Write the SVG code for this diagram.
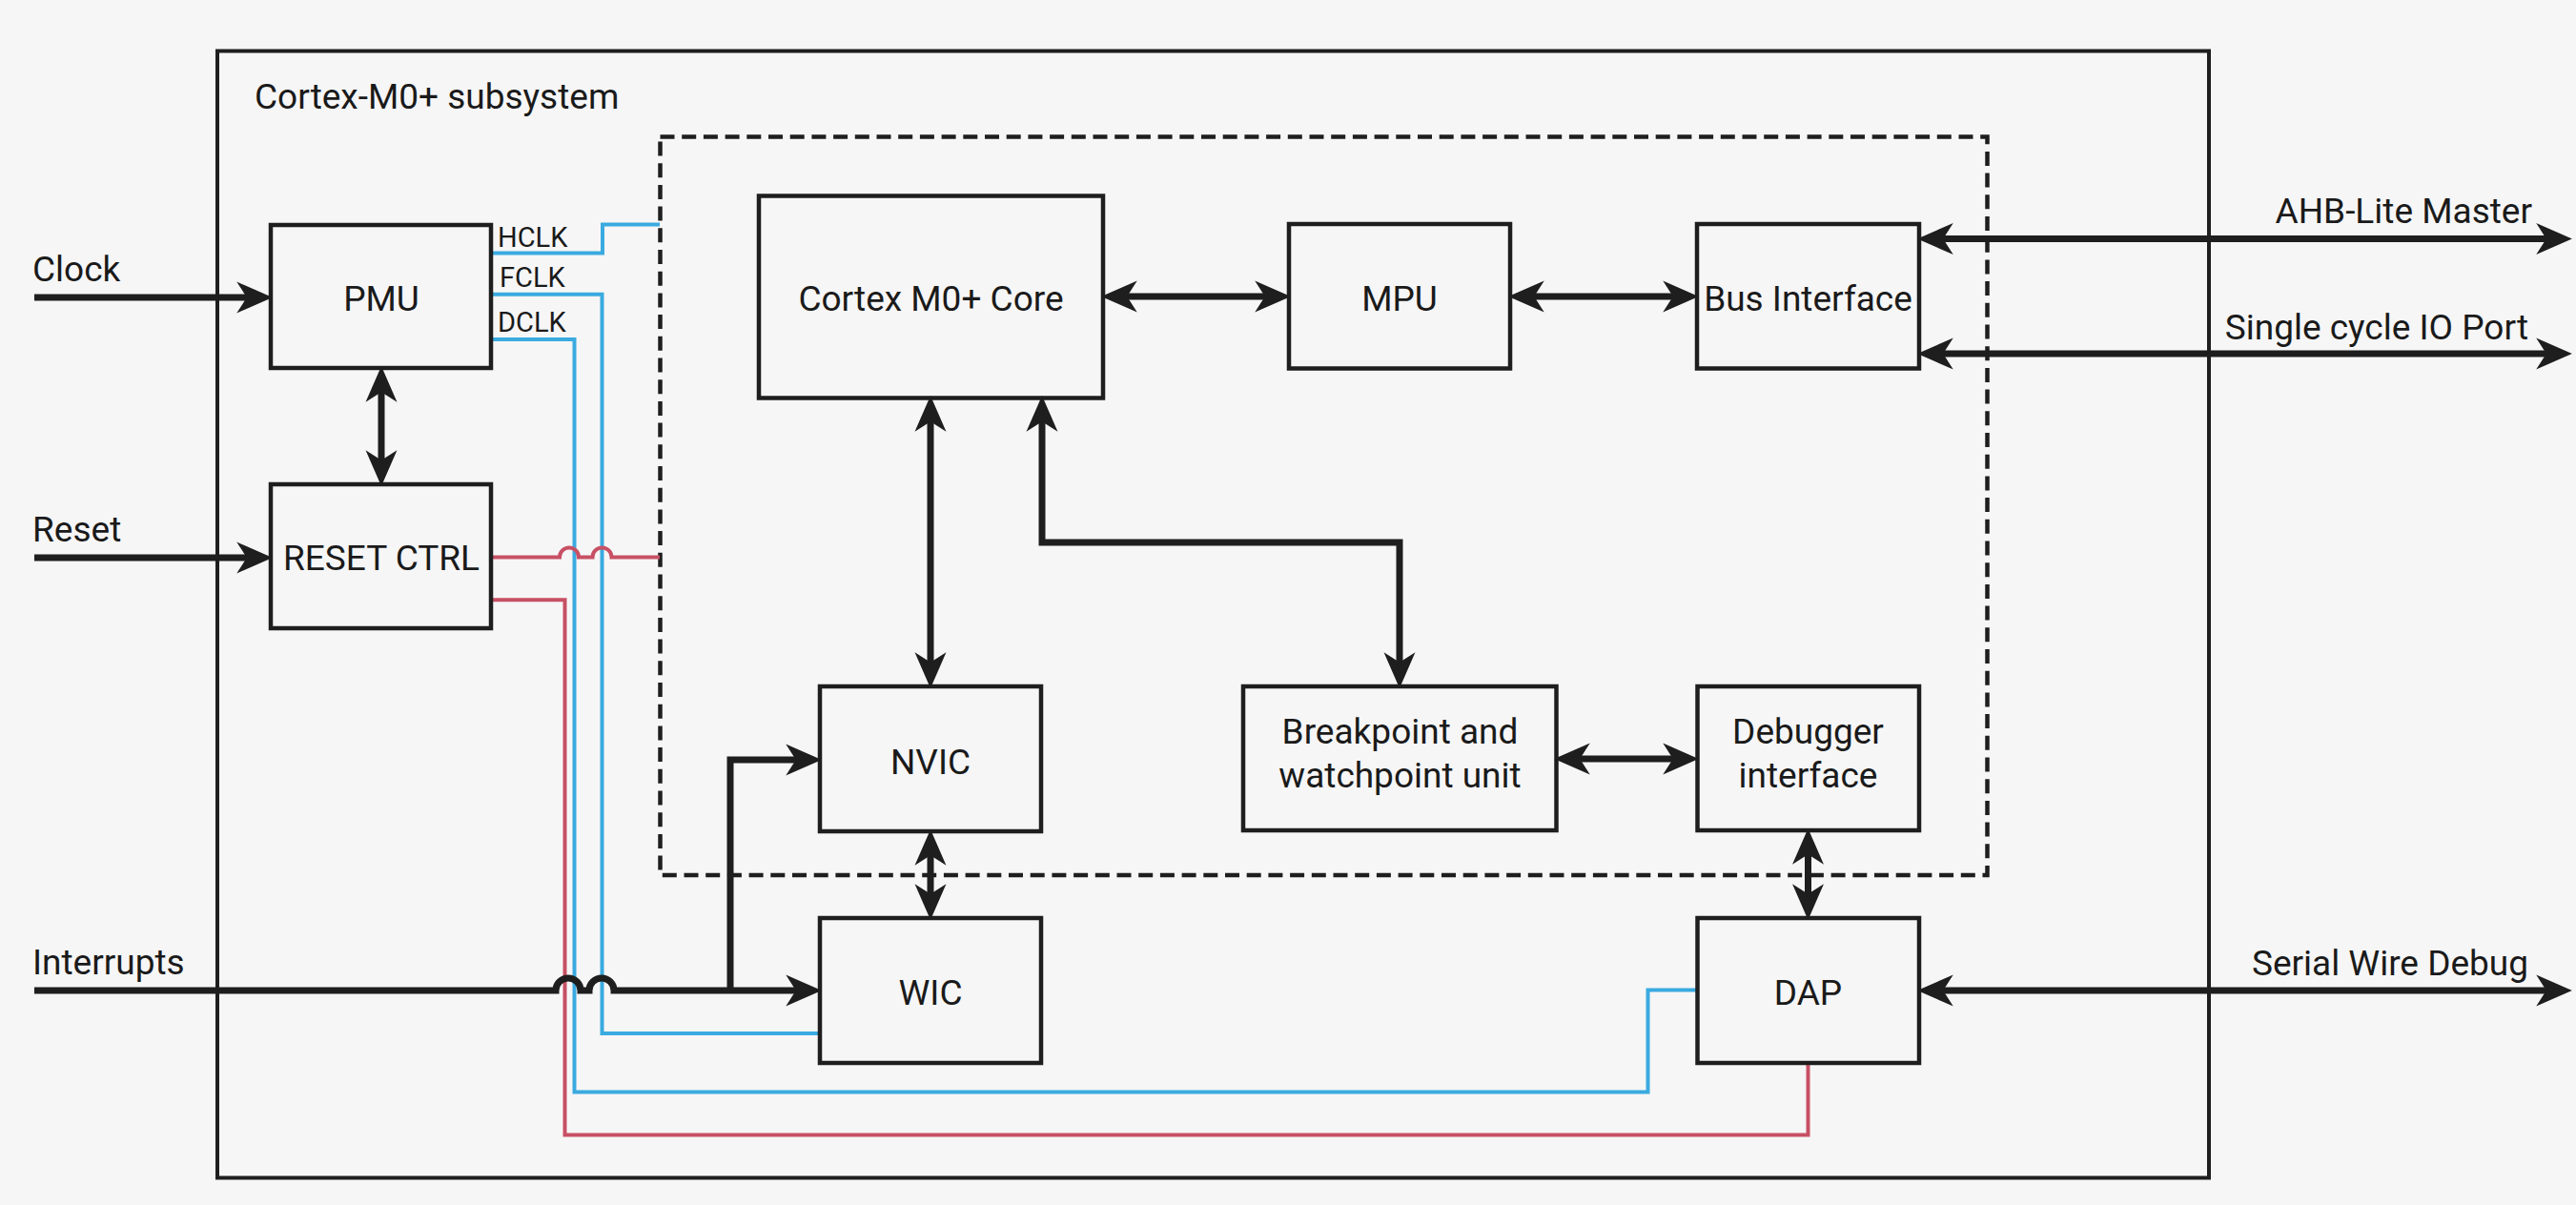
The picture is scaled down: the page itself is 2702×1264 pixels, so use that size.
<svg xmlns="http://www.w3.org/2000/svg" width="2702" height="1264" viewBox="0 0 2702 1264">
<style>
.bg{fill:#f6f6f6}
.box{fill:none;stroke:#1e1e1e;stroke-width:4.5}
.frame{fill:none;stroke:#1e1e1e;stroke-width:4}
.dash{fill:none;stroke:#1e1e1e;stroke-width:4.5;stroke-dasharray:15 7.7}
.t{font-family:Roboto,"Liberation Sans",sans-serif;font-size:37px;fill:#1a1a1a}
.c{text-anchor:middle}
.e{text-anchor:end}
.s{font-size:29px}
.bus{fill:none;stroke:#1e1e1e;stroke-width:7}
.blue{fill:none;stroke:#3aaae0;stroke-width:4}
.red{fill:none;stroke:#c85064;stroke-width:4}
</style>
<defs>
<marker id="ah" markerUnits="userSpaceOnUse" markerWidth="40" markerHeight="40" viewBox="0 -16 34 32" refX="10" refY="0" orient="auto-start-reverse" overflow="visible">
<path d="M0,-14 L32,0 L0,14 L9,0 Z" fill="#1e1e1e"/>
</marker>
</defs>
<rect class="bg" x="0" y="0" width="2702" height="1264"/>
<g id="subsystem">
<rect class="frame" x="228" y="53.5" width="2089" height="1182"/>
<text class="t" x="267" y="114">Cortex-M0+ subsystem</text>
</g>
<g id="core-region">
<rect class="dash" x="692.5" y="143.5" width="1392" height="774.5"/>
</g>
<g id="connectors">
<path class="blue" d="M517 265.5 H632 V235.5 H692"/>
<path class="blue" d="M517 308.7 H631.5 V1084 H860"/>
<path class="blue" d="M517 356 H602.5 V1145.5 H1728.5 V1038.5 H1780"/>
<path class="red" d="M517 584.5 H587 A10 10 0 0 1 607 584.5 H621.5 A10 10 0 0 1 641.5 584.5 H692"/>
<path class="red" d="M517 629.3 H592.5 V1190.5 H1896.5 V1116"/>
<path class="bus" marker-end="url(#ah)" d="M36 312 H260"/>
<path class="bus" marker-end="url(#ah)" d="M36 585 H260"/>
<path class="bus" marker-start="url(#ah)" marker-end="url(#ah)" d="M400 410 V484"/>
<path class="bus" marker-end="url(#ah)" d="M36 1039 H583 A13 13 0 0 1 609 1039 H618 A13 13 0 0 1 644 1039 H836"/>
<path class="bus" marker-end="url(#ah)" d="M766 1039 V797 H836"/>
<path class="bus" marker-start="url(#ah)" marker-end="url(#ah)" d="M1181 311 H1328"/>
<path class="bus" marker-start="url(#ah)" marker-end="url(#ah)" d="M1608 311 H1756"/>
<path class="bus" marker-start="url(#ah)" marker-end="url(#ah)" d="M2037 250.5 H2672"/>
<path class="bus" marker-start="url(#ah)" marker-end="url(#ah)" d="M2037 371 H2672"/>
<path class="bus" marker-start="url(#ah)" marker-end="url(#ah)" d="M976 441 V696"/>
<path class="bus" marker-start="url(#ah)" marker-end="url(#ah)" d="M1093 441 V569 H1468 V696"/>
<path class="bus" marker-start="url(#ah)" marker-end="url(#ah)" d="M976 896 V939"/>
<path class="bus" marker-start="url(#ah)" marker-end="url(#ah)" d="M1656 796 H1756"/>
<path class="bus" marker-start="url(#ah)" marker-end="url(#ah)" d="M1896.5 895 V939"/>
<path class="bus" marker-start="url(#ah)" marker-end="url(#ah)" d="M2037 1039 H2672"/>
</g>
<g id="labels">
<text class="t" x="34" y="295">Clock</text>
<text class="t" x="34" y="568">Reset</text>
<text class="t" x="34" y="1022">Interrupts</text>
<text class="t e" x="2656" y="234">AHB-Lite Master</text>
<text class="t e" x="2652" y="356">Single cycle IO Port</text>
<text class="t e" x="2652" y="1022.5">Serial Wire Debug</text>
<text class="t s" x="522" y="259">HCLK</text>
<text class="t s" x="524" y="301">FCLK</text>
<text class="t s" x="522" y="348.3">DCLK</text>
</g>
<g id="pmu">
<rect class="box" x="284" y="236" width="231" height="150"/>
<text class="t c" x="400" y="326">PMU</text>
</g>
<g id="reset-ctrl">
<rect class="box" x="284" y="508" width="231" height="151"/>
<text class="t c" x="400" y="598">RESET CTRL</text>
</g>
<g id="core">
<rect class="box" x="796" y="205.5" width="361" height="212"/>
<text class="t c" x="976.5" y="326">Cortex M0+ Core</text>
</g>
<g id="mpu">
<rect class="box" x="1352" y="235" width="232" height="151.5"/>
<text class="t c" x="1468" y="326">MPU</text>
</g>
<g id="bus-interface">
<rect class="box" x="1780" y="235" width="233" height="151.5"/>
<text class="t c" x="1896.5" y="326">Bus Interface</text>
</g>
<g id="nvic">
<rect class="box" x="860" y="720" width="232" height="152"/>
<text class="t c" x="976" y="811.5">NVIC</text>
</g>
<g id="bwu">
<rect class="box" x="1304" y="720" width="328.5" height="151"/>
<text class="t c" x="1468.5" y="779.5">Breakpoint and</text>
<text class="t c" x="1468.5" y="826.3">watchpoint unit</text>
</g>
<g id="debugger-interface">
<rect class="box" x="1780.5" y="720" width="232.5" height="151"/>
<text class="t c" x="1896.5" y="779.5">Debugger</text>
<text class="t c" x="1896.5" y="826.3">interface</text>
</g>
<g id="wic">
<rect class="box" x="860" y="963" width="232" height="152"/>
<text class="t c" x="976" y="1053.5">WIC</text>
</g>
<g id="dap">
<rect class="box" x="1780.5" y="963" width="232.5" height="152"/>
<text class="t c" x="1896.5" y="1053.5">DAP</text>
</g>
</svg>
